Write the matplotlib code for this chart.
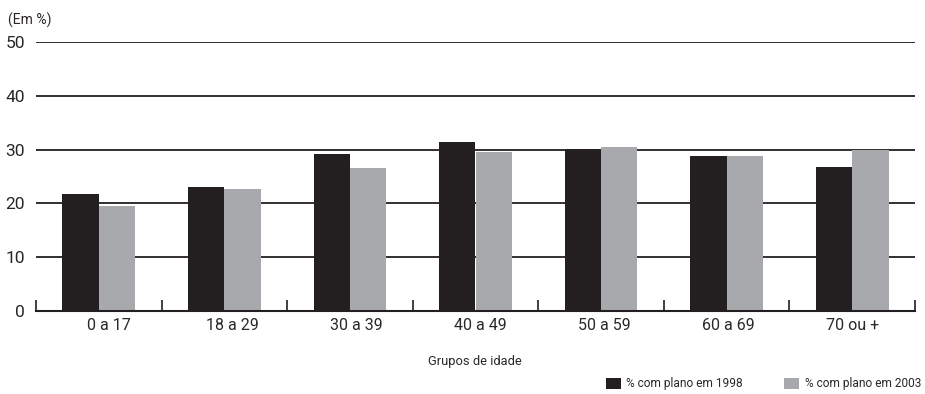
import matplotlib
matplotlib.use("Agg")
import matplotlib.pyplot as plt
from matplotlib.patches import Patch
from matplotlib.transforms import ScaledTranslation
import numpy as np

plt.rcParams['font.family'] = ['Roboto', 'DejaVu Sans']

# Data: share of people with a health plan by age group
categories = ["0 a 17", "18 a 29", "30 a 39", "40 a 49", "50 a 59", "60 a 69", "70 ou +"]
plano_1998 = [21.7, 23.1, 29.2, 31.4, 30.2, 28.8, 26.7]
plano_2003 = [19.6, 22.6, 26.5, 29.6, 30.5, 28.8, 29.9]
yticks = [0, 10, 20, 30, 40, 50]
series_labels = ["% com plano em 1998", "% com plano em 2003"]

c_dark = "#231f20"
c_gray = "#a7a9ac"
c_text = "#2b2728"

W, H = 925, 394
fig = plt.figure(figsize=(W / 100, H / 100), dpi=100)
ax = fig.add_axes([36 / W, (H - 311) / H, (915 - 36) / W, (311 - 42) / H])

x = np.arange(len(categories))
bw = 0.29
ax.bar(x - bw / 2, plano_1998, width=bw, color=c_dark, zorder=3)
ax.bar(x + bw / 2, plano_2003, width=bw, color=c_gray, zorder=3)

# horizontal reference lines
for yv in yticks[1:]:
    ax.axhline(yv, color=c_dark, lw=1.3, zorder=1)

ax.set_xlim(-0.5, len(categories) - 0.5)
ax.set_ylim(0, 50)

for s in ["top", "right", "left"]:
    ax.spines[s].set_visible(False)
ax.spines["bottom"].set_color(c_dark)
ax.spines["bottom"].set_linewidth(1.5)
ax.spines["bottom"].set_zorder(4)

ax.set_yticks(yticks)
ax.set_yticklabels([str(v) for v in yticks], fontsize=12.5, color=c_text)
ax.tick_params(axis="y", length=0, pad=8)

ax.set_xticks(x)
ax.set_xticklabels(categories, fontsize=11.5, color=c_text)
ax.tick_params(axis="x", which="major", length=0, pad=5)
ax.set_xticks(np.arange(-0.5, len(categories)), minor=True)
ax.tick_params(axis="x", which="minor", direction="in", length=8, width=1.2, color=c_dark)

# labels sit on a slightly tighter pitch than the categories
n = len(categories)
for i, lbl in enumerate(ax.get_xticklabels()):
    dx = (10 - 10 * i / (n - 1)) / 100
    lbl.set_transform(lbl.get_transform() + ScaledTranslation(dx, 0, fig.dpi_scale_trans))

fig.text(8 / W, 1 - 20 / H, "(Em %)", fontsize=10, color=c_text, va="center", ha="left")
fig.text(475 / W, 1 - 362 / H, "Grupos de idade", fontsize=9.3, color=c_text, va="center",
         ha="center")

handles = [Patch(facecolor=c_dark, edgecolor="none"), Patch(facecolor=c_gray, edgecolor="none")]
leg = fig.legend(handles, series_labels, loc="center right", bbox_to_anchor=(921 / W, 1 - 384 / H),
                 ncol=2, frameon=False, fontsize=8.6, handlelength=1.25, handleheight=1.15,
                 handletextpad=0.5, columnspacing=3.4, borderaxespad=0, borderpad=0)
for t in leg.get_texts():
    t.set_color(c_text)

fig.savefig("out.png", dpi=100)
